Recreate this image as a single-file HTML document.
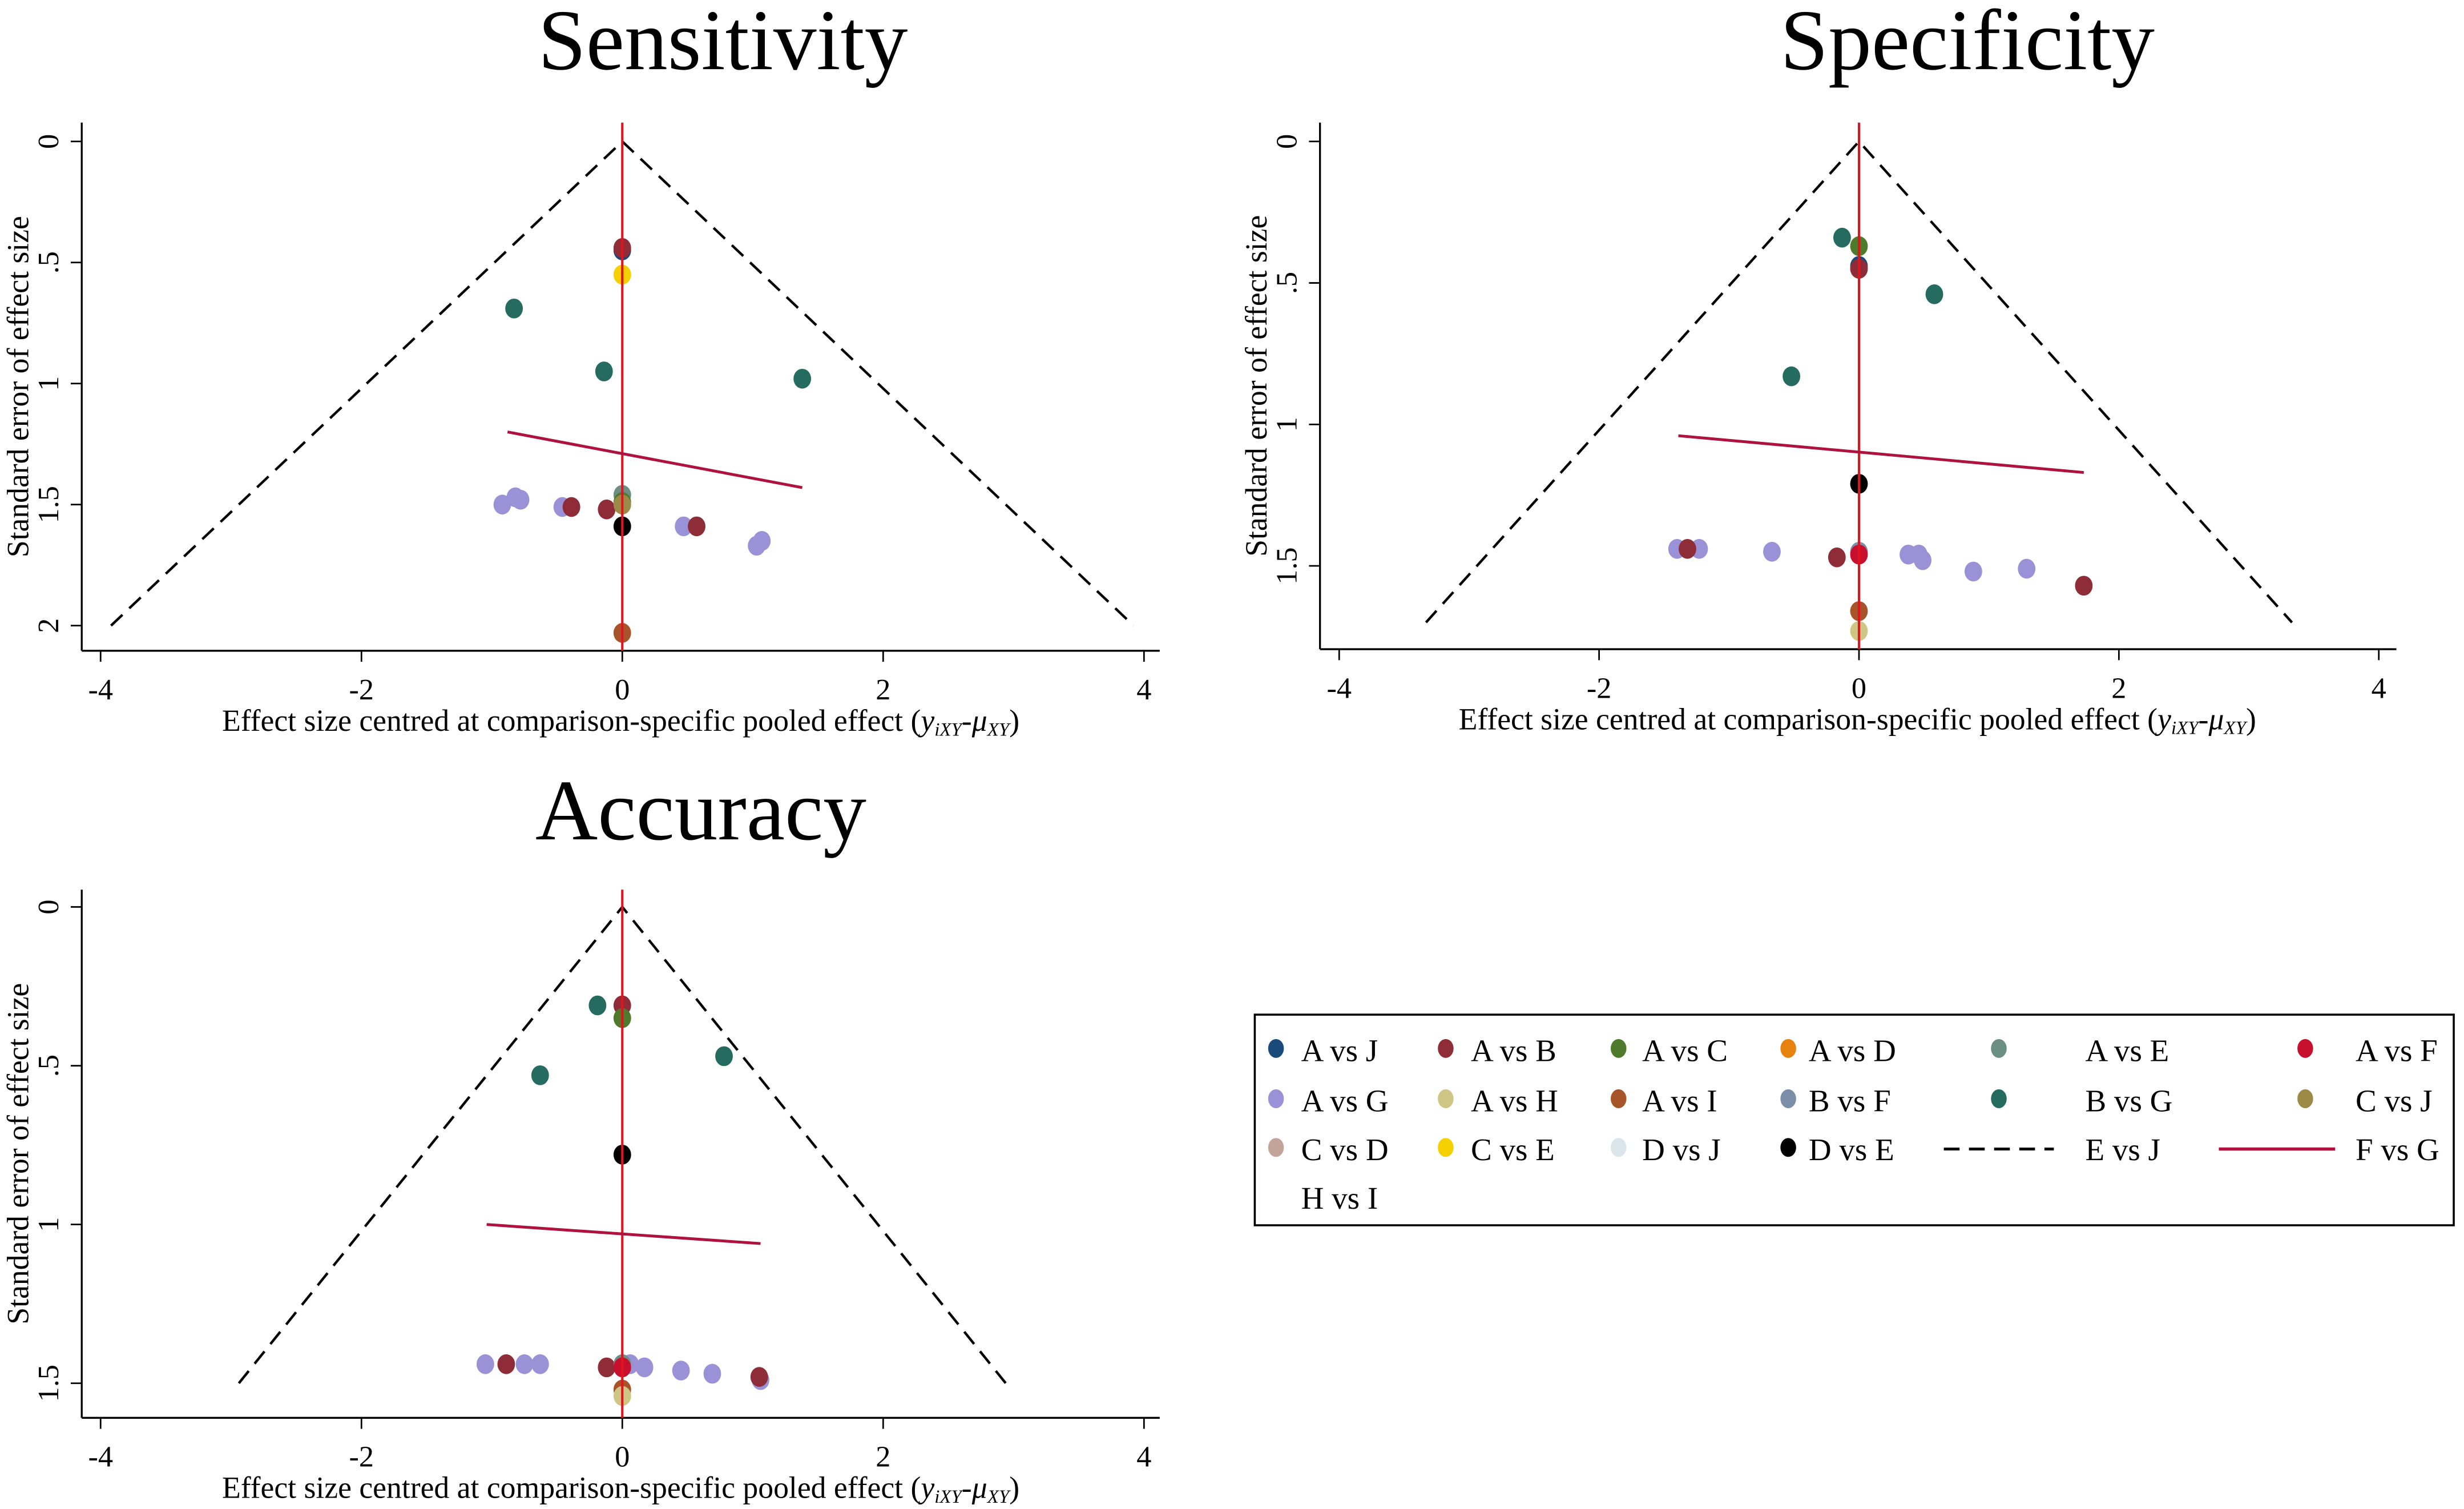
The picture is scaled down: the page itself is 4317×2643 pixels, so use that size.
<!DOCTYPE html>
<html><head><meta charset="utf-8"><style>
html,body{margin:0;padding:0;background:#fff;}
svg{display:block;font-family:"Liberation Serif",serif;}
</style></head><body>
<svg id="chart" width="4317" height="2643" viewBox="0 0 1568 960" xmlns="http://www.w3.org/2000/svg">
<rect width="1568" height="960" fill="#fff"/>
<g id="panels"></g>
<g id="legend">
  <rect x="798.5" y="645.5" width="763" height="134" fill="none" stroke="#000" stroke-width="1.3"/>
</g>
</svg>
<script>
const NS="http://www.w3.org/2000/svg";
const colors={"A vs J":"#1a4a7a","A vs B":"#8e2d37","A vs C":"#4f7a2b","A vs D":"#e8820e","A vs E":"#6b8f83","A vs F":"#c8102e","A vs G":"#9b91d6","A vs H":"#cfc585","A vs I":"#a8542a","B vs F":"#7b8fa8","B vs G":"#256b5f","C vs J":"#9c8a47","C vs D":"#c4a49a","C vs E":"#f4d000","D vs J":"#dbe6ec","D vs E":"#000000"};

// Sensitivity data
const sensGroups=["A vs J","A vs B","C vs E","B vs G","B vs G","B vs G","A vs G","A vs G","A vs G","A vs G","A vs G","A vs G","A vs G","A vs B","A vs B","A vs B","A vs E","A vs C","C vs J","D vs E","A vs I"];
const sensX=[0,0,0,-0.83,-0.14,1.38,-0.92,-0.82,-0.78,-0.46,0.47,1.03,1.07,-0.39,-0.12,0.57,0,0,0,0,0];
const sensSE=[0.45,0.44,0.55,0.69,0.95,0.98,1.50,1.47,1.48,1.51,1.59,1.67,1.65,1.51,1.52,1.59,1.46,1.49,1.50,1.59,2.03];
const sensFit=[[-0.88,1.20],[1.38,1.43]];

// Specificity data
const specGroups=["B vs G","B vs G","B vs G","A vs C","A vs J","A vs B","D vs E","A vs G","A vs G","A vs G","A vs G","A vs G","A vs G","A vs G","A vs G","A vs B","A vs B","A vs B","B vs F","A vs F","A vs I","A vs H"];
const specX=[-0.13,0.58,-0.52,0,0,0,0,-1.40,-1.23,-0.67,0.38,0.46,0.49,0.88,1.29,-1.32,-0.17,1.73,0,0,0,0];
const specSE=[0.34,0.54,0.83,0.37,0.44,0.45,1.21,1.44,1.44,1.45,1.46,1.46,1.48,1.52,1.51,1.44,1.47,1.57,1.45,1.46,1.66,1.73];
const specFit=[[-1.39,1.04],[1.73,1.17]];

// Accuracy data
const accGroups=["B vs G","B vs G","B vs G","A vs B","A vs C","D vs E","A vs G","A vs G","A vs G","A vs G","A vs G","A vs G","A vs G","A vs G","A vs B","A vs B","A vs B","A vs E","A vs F","A vs I","A vs H"];
const accX=[-0.19,0.78,-0.63,0,0,0,-1.05,-0.75,-0.63,0.06,0.17,0.45,0.69,1.06,-0.89,-0.12,1.05,0,0,0,0];
const accSE=[0.31,0.47,0.53,0.31,0.35,0.78,1.44,1.44,1.44,1.44,1.45,1.46,1.47,1.49,1.44,1.45,1.48,1.44,1.45,1.52,1.54];
const accFit=[[-1.04,1.00],[1.06,1.06]];

const xTicks=[-4,-2,0,2,4];
const sensYTicks=[0,0.5,1,1.5,2], specYTicks=[0,0.5,1,1.5], accYTicks=[0,0.5,1,1.5];
const yTickLabels={0:"0",0.5:".5",1:"1",1.5:"1.5",2:"2"};

const panels=[
 {name:"sensitivity",title:"Sensitivity",tx:460,ty:44,x0:396,xs:83,y0:90,ys:154,ax:52,axT:78,axB:414,xl:57,xr:738,maxSE:2,groups:sensGroups,xs_:sensX,se:sensSE,fit:sensFit,yt:sensYTicks},
 {name:"specificity",title:"Specificity",tx:1252,ty:44,x0:1183,xs:82.7,y0:90,ys:180,ax:840,axT:78,axB:413,xl:845,xr:1525,maxSE:1.7,groups:specGroups,xs_:specX,se:specSE,fit:specFit,yt:specYTicks},
 {name:"accuracy",title:"Accuracy",tx:446,ty:534,x0:396,xs:83,y0:577,ys:202,ax:52,axT:566,axB:902,xl:57,xr:738,maxSE:1.5,groups:accGroups,xs_:accX,se:accSE,fit:accFit,yt:accYTicks}
];
function mk(tag,attrs,parent,text){const e=document.createElementNS(NS,tag);for(const k in attrs)e.setAttribute(k,attrs[k]);if(text!==undefined)e.textContent=text;parent.appendChild(e);return e;}
const root=document.getElementById('panels');
panels.forEach(p=>{
  const X=v=>p.x0+v*p.xs, Y=v=>p.y0+v*p.ys;
  const g=mk('g',{},root);
  
  
  const t=mk('text',{x:p.tx,y:p.ty,'font-size':55,'text-anchor':'middle'},g,p.title);
  
  
  const ya=mk('line',{x1:p.ax,y1:p.axT,x2:p.ax,y2:p.axB,stroke:'#000','stroke-width':1.2},g);
  
  
  const xa=mk('line',{x1:p.ax,y1:p.axB,x2:p.xr,y2:p.axB,stroke:'#000','stroke-width':1.2},g);
  
  
  xTicks.forEach(v=>{
    mk('line',{x1:X(v),y1:p.axB,x2:X(v),y2:p.axB+7,stroke:'#000','stroke-width':1},g);
    const tl=mk('text',{x:X(v),y:p.axB+31,'font-size':19,'text-anchor':'middle'},g,String(v));
    
    
  });
  p.yt.forEach(v=>{
    mk('line',{x1:p.ax-7,y1:Y(v),x2:p.ax,y2:Y(v),stroke:'#000','stroke-width':1},g);
    const tl=mk('text',{x:0,y:0,'font-size':19,'text-anchor':'middle',transform:`translate(${p.ax-15},${Y(v)}) rotate(-90)`},g,yTickLabels[v]);
    
    
  });
  const xt=mk('text',{x:X(0)-1,y:p.axB+51,'font-size':19.5,'text-anchor':'middle'},g);
  xt.innerHTML='Effect size centred at comparison-specific pooled effect (<tspan font-style="italic">y</tspan><tspan font-style="italic" font-size="12" dy="3">iXY</tspan><tspan dy="-3">-</tspan><tspan font-style="italic">μ</tspan><tspan font-style="italic" font-size="12" dy="3">XY</tspan><tspan dy="-3">)</tspan>';
  
  
  const yc=(p.axT+p.axB)/2;
  const yt=mk('text',{x:0,y:0,'font-size':19.5,'text-anchor':'middle',transform:`translate(${p.ax-34},${yc}) rotate(-90)`},g,'Standard error of effect size');
  
  
  const z=1.96;
  const fn=mk('polyline',{points:`${X(-z*p.maxSE)},${Y(p.maxSE)} ${X(0)},${Y(0)} ${X(z*p.maxSE)},${Y(p.maxSE)}`,fill:'none',stroke:'#000','stroke-width':1.6,'stroke-dasharray':'10,6'},g);
  
  
  p.groups.forEach((grp,i)=>{
    const c=mk('ellipse',{cx:X(p.xs_[i]),cy:Y(p.se[i]),rx:5.6,ry:6.3,fill:colors[grp]},g);
    
    
  });
  const nl=mk('line',{x1:X(0),y1:p.axT,x2:X(0),y2:p.axB,stroke:'#e0141e','stroke-width':1.5},g);
  
  
  const fl=mk('line',{x1:X(p.fit[0][0]),y1:Y(p.fit[0][1]),x2:X(p.fit[1][0]),y2:Y(p.fit[1][1]),stroke:'#b0123f','stroke-width':1.8},g);
  
  
});
const legendItems=["A vs J","A vs B","A vs C","A vs D","A vs E","A vs F","A vs G","A vs H","A vs I","B vs F","B vs G","C vs J","C vs D","C vs E","D vs J","D vs E","E vs J","F vs G","H vs I"];
const mx=[812,920,1030,1138,1272,1467], tx=[828,936,1045,1151,1327,1499], ry=[668,700,731,762];
const lg=document.getElementById('legend');
legendItems.forEach((name,i)=>{
  const r=Math.floor(i/6), c=i%6, y=ry[r];
  const g=mk('g',{},lg);
  
  
  if(name==="E vs J"){
    mk('line',{x1:1237,y1:y,x2:1307,y2:y,stroke:'#000','stroke-width':1.8,'stroke-dasharray':'10,6'},g);
  } else if(name==="F vs G"){
    mk('line',{x1:1412,y1:y,x2:1486,y2:y,stroke:'#b0123f','stroke-width':2},g);
  } else if(name!=="H vs I"){
    mk('ellipse',{cx:mx[c],cy:y-1,rx:5,ry:6,fill:colors[name]},g);
  }
  mk('text',{x:tx[c],y:y+7,'font-size':20},g,name);
});
</script>
</body></html>
